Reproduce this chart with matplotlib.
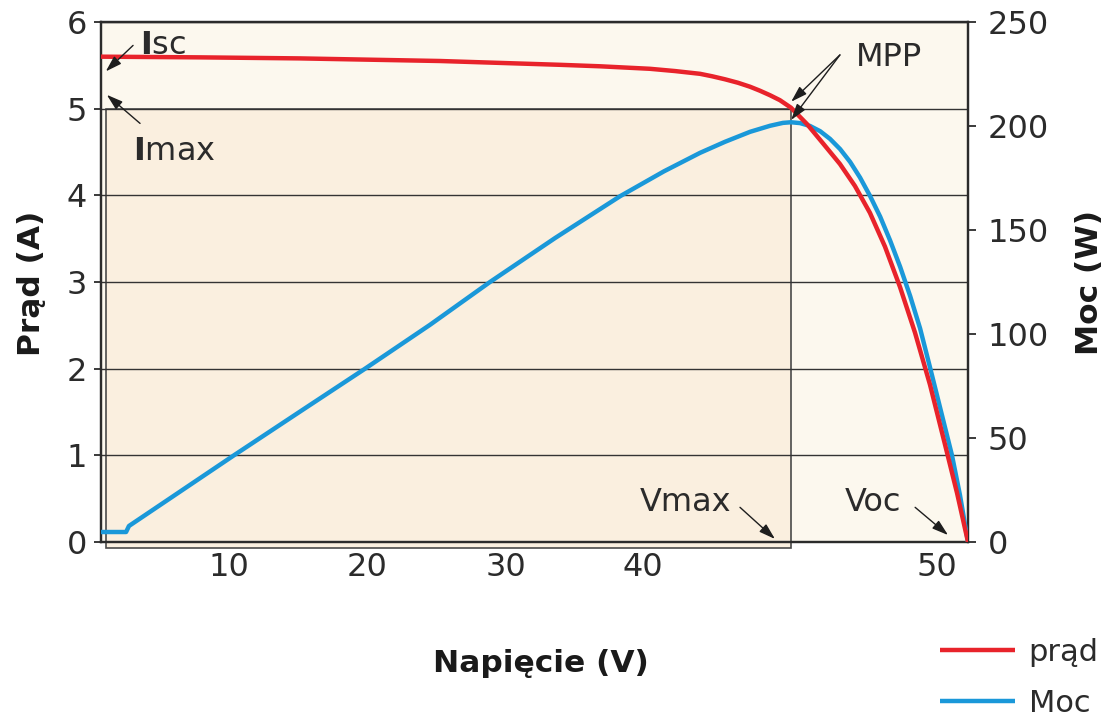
import matplotlib
matplotlib.use('Agg')
import matplotlib.pyplot as plt
from matplotlib.patches import Rectangle

# ---- data ----
voltage_i = [0.0, 5.81, 11.67, 19.88, 26.92, 29.26, 32.19, 33.66, 35.13, 35.83, 36.59,
             37.35, 38.06, 38.64, 39.23, 39.81, 40.46, 41.40, 42.34, 43.33, 44.21,
             45.09, 45.97, 46.85, 47.73, 48.61, 49.49, 50.20, 50.84]
current = [5.60, 5.592, 5.58, 5.55, 5.506, 5.489, 5.46, 5.434, 5.402, 5.374, 5.339,
           5.299, 5.253, 5.207, 5.155, 5.098, 5.011, 4.822, 4.599, 4.362, 4.108,
           3.798, 3.409, 2.944, 2.417, 1.816, 1.126, 0.563, 0.0]

voltage_p = [0.0, 1.47, 1.64, 7.80, 11.67, 15.48, 19.29, 22.81, 26.62, 30.43, 33.01,
             35.13, 36.59, 38.06, 39.23, 39.99, 40.46, 40.99, 41.58, 42.17, 42.75,
             43.34, 43.93, 44.51, 45.10, 45.69, 46.27, 46.86, 47.45, 48.03, 48.62,
             49.20, 49.90, 50.37, 50.84]
power = [4.8, 4.8, 7.7, 41.7, 62.7, 83.3, 104.4, 125.0, 146.1, 166.2, 178.2,
         187.1, 192.4, 197.2, 200.1, 201.5, 201.8, 201.4, 200.0, 197.5, 193.8,
         188.9, 182.7, 175.2, 166.3, 156.4, 145.0, 132.3, 118.2, 102.7, 83.7,
         64.7, 41.7, 22.5, 0.0]

x_tick_pos = [7.51, 15.60, 23.75, 31.78, 49.02]
x_tick_labels = ['10', '20', '30', '40', '50']
i_ticks = [0, 1, 2, 3, 4, 5, 6]
p_ticks = [0, 50, 100, 150, 200, 250]

V_MPP = 40.46
I_MPP = 5.0
V_OC = 50.84

RED = '#e8232b'
BLUE = '#1a98d9'
BG = '#fcf8ee'
BG_IN = '#faefdf'
DARK = '#2b2b2b'

plt.rcParams['font.family'] = ['DejaVu Sans']

W, H = 1113, 724
fig = plt.figure(figsize=(W / 100, H / 100), dpi=100)
fig.patch.set_facecolor('white')
ax = fig.add_axes([101 / W, (H - 542) / H, (968 - 101) / W, (542 - 22) / H])
ax.set_facecolor(BG)
ax.set_xlim(0, V_OC)
ax.set_ylim(0, 6)

ax2 = ax.twinx()
ax2.set_ylim(0, 250)

# inner (MPP) rectangle
rect = Rectangle((0.27, -0.07), V_MPP - 0.27, I_MPP + 0.07, facecolor=BG_IN,
                 edgecolor='#4a4a4a', lw=1.2, zorder=1, clip_on=False)
ax.add_patch(rect)

ax.set_yticks(i_ticks)
ax.grid(axis='y', color='#333333', lw=1.0, zorder=1.5)
ax.set_axisbelow('line')

# curves
blue_line, = ax2.plot(voltage_p, power, color=BLUE, lw=3.2, label='Moc', zorder=3,
                      solid_capstyle='butt', solid_joinstyle='round')
red_line, = ax2.plot(voltage_i, current, color=RED, lw=3.2, label='prąd', zorder=4,
                     transform=ax.transData, solid_capstyle='butt',
                     solid_joinstyle='round')

# ticks
ax.set_xticks(x_tick_pos, x_tick_labels)
ax.tick_params(axis='x', length=0, pad=7, labelsize=23, labelcolor=DARK)
ax.tick_params(axis='y', direction='out', length=5, width=1.3, pad=5,
               labelsize=23, labelcolor=DARK, color=DARK)
ax2.set_yticks(p_ticks)
ax2.tick_params(axis='y', direction='out', length=6, width=1.3, pad=8,
                labelsize=23, labelcolor=DARK, color=DARK)
for a in (ax, ax2):
    for s in a.spines.values():
        s.set_color(DARK)
        s.set_linewidth(1.6)

# annotations
ap = dict(arrowstyle='-|>,head_length=0.7,head_width=0.22', color='#1e1e1e',
          lw=1.0, mutation_scale=14, shrinkA=0, shrinkB=0)
notes = [((0.28, 5.43), (1.88, 5.73)),
         ((0.34, 5.16), (2.29, 4.83)),
         ((40.47, 5.08), (43.33, 5.62)),
         ((40.47, 4.87), (43.33, 5.62)),
         ((39.52, 0.035), (37.47, 0.40)),
         ((49.67, 0.08), (47.74, 0.40))]
for head, tail in notes:
    ax2.annotate('', xy=head, xytext=tail, xycoords=ax.transData,
                 textcoords=ax.transData, arrowprops=ap, zorder=5,
                 annotation_clip=False)

tk = dict(fontsize=23, color=DARK, transform=ax.transData, va='baseline',
          ha='left', zorder=6)
ax2.text(2.29, 5.63, r'$\mathbf{I}$sc', **tk)
ax2.text(1.88, 4.41, r'$\mathbf{I}$max', **tk)
ax2.text(44.27, 5.49, 'MPP', **tk)
ax2.text(31.62, 0.36, 'Vmax', **tk)
ax2.text(43.64, 0.36, 'Voc', **tk)

# axis labels
fig.text(32 / W, 1 - 283 / H, 'Prąd (A)', rotation=90, fontsize=22.5,
         fontweight='bold', ha='center', va='center', color='#1a1a1a')
fig.text(1090 / W, 1 - 283 / H, 'Moc (W)', rotation=90, fontsize=22.5,
         fontweight='bold', ha='center', va='center', color='#1a1a1a')
fig.text(541 / W, 1 - 663 / H, 'Napięcie (V)', fontsize=22.5,
         fontweight='bold', ha='center', va='center', color='#1a1a1a')

fig.legend([red_line, blue_line], ['prąd', 'Moc'], loc='upper left',
           bbox_to_anchor=(940 / W, 1 - 638 / H), frameon=False, fontsize=22,
           handlelength=2.45, handletextpad=0.45, labelspacing=0.72,
           borderpad=0, borderaxespad=0, labelcolor=DARK)

fig.savefig('out.png', dpi=100, facecolor='white')
